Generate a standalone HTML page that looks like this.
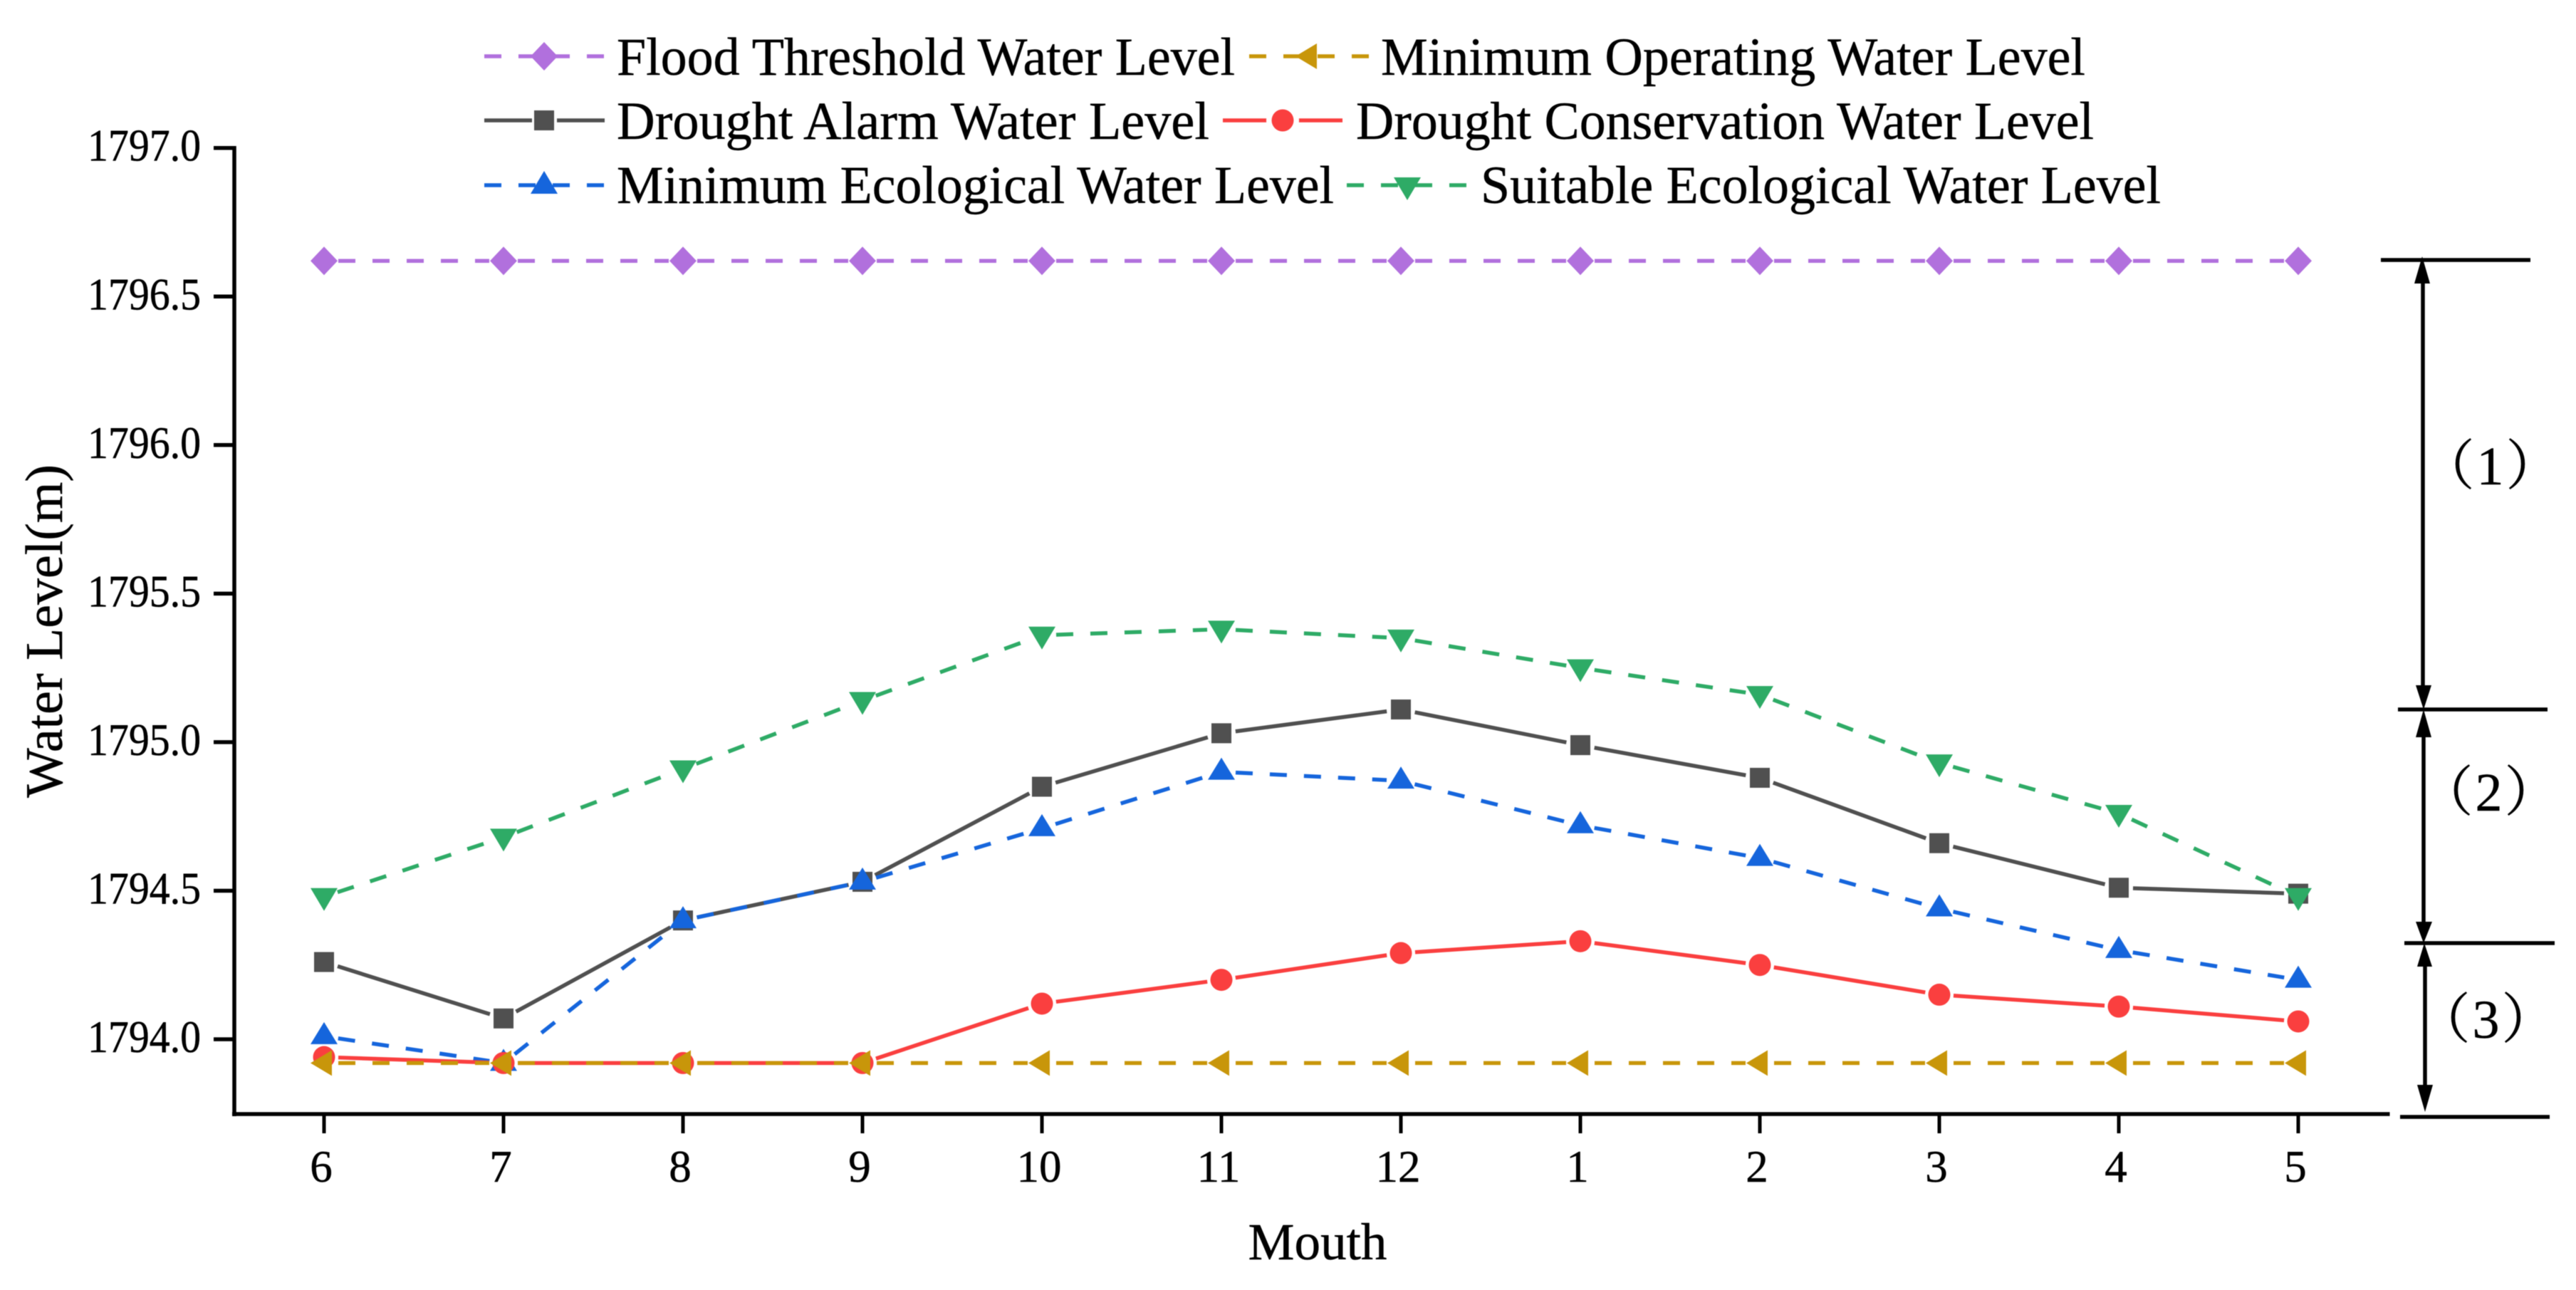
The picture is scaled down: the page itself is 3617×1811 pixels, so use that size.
<!DOCTYPE html>
<html lang="en">
<head>
<meta charset="utf-8">
<title>Water Level Chart</title>
<style>
html,body{margin:0;padding:0;background:#fff;}
svg{display:block;filter:blur(0.6px);}
text{font-family:"Liberation Serif","Noto Serif CJK SC",serif;fill:#000;stroke:#000;stroke-width:0.5;}
</style>
</head>
<body>
<svg id="chart" xmlns="http://www.w3.org/2000/svg" width="3617" height="1811" viewBox="0 0 3617 1811">
<rect x="0" y="0" width="3617" height="1811" fill="#fff"/>
<g id="series-layer"></g>
<g id="axes-layer"></g>
<text transform="translate(87 886) rotate(-90)" text-anchor="middle" font-size="74" textLength="468" lengthAdjust="spacingAndGlyphs">Water Level(m)</text>
<text x="1850" y="1768" text-anchor="middle" font-size="73" textLength="195" lengthAdjust="spacingAndGlyphs">Mouth</text>

<g>
  <g>
    <line x1="680" y1="79" x2="849" y2="79" stroke="#B170DD" stroke-width="5.5" stroke-dasharray="24 24"/>
    <polygon points="764,59 783,79 764,99 745,79" fill="#B170DD"/>
    <text x="866" y="105" font-size="75" textLength="868" lengthAdjust="spacingAndGlyphs">Flood Threshold Water Level</text>
  </g>
  <g>
    <line x1="1754" y1="79" x2="1922" y2="79" stroke="#C8960A" stroke-width="5.5" stroke-dasharray="24 24"/>
    <polygon points="1819,79 1849,61 1849,97" fill="#C8960A"/>
    <text x="1939" y="105" font-size="75" textLength="989" lengthAdjust="spacingAndGlyphs">Minimum Operating Water Level</text>
  </g>
  <g>
    <line x1="680" y1="169" x2="747" y2="169" stroke="#505050" stroke-width="5.5"/>
    <line x1="782" y1="169" x2="849" y2="169" stroke="#505050" stroke-width="5.5"/>
    <rect x="750" y="155" width="28" height="28" fill="#505050"/>
    <text x="866" y="195" font-size="75" textLength="832" lengthAdjust="spacingAndGlyphs">Drought Alarm Water Level</text>
  </g>
  <g>
    <line x1="1717" y1="169" x2="1885" y2="169" stroke="#FA3F3F" stroke-width="5.5"/>
    <circle cx="1801" cy="169" r="23" fill="#fff"/>
    <circle cx="1801" cy="169" r="15.5" fill="#FA3F3F"/>
    <text x="1904" y="195" font-size="75" textLength="1036" lengthAdjust="spacingAndGlyphs">Drought Conservation Water Level</text>
  </g>
  <g>
    <line x1="680" y1="260" x2="849" y2="260" stroke="#1565DC" stroke-width="5.5" stroke-dasharray="24 24"/>
    <polygon points="764,240 783,272 745,272" fill="#1565DC"/>
    <text x="866" y="285" font-size="75" textLength="1007" lengthAdjust="spacingAndGlyphs">Minimum Ecological Water Level</text>
  </g>
  <g>
    <line x1="1891" y1="260" x2="2060" y2="260" stroke="#2EAB66" stroke-width="5.5" stroke-dasharray="24 24"/>
    <polygon points="1957,249 1995,249 1976,281" fill="#2EAB66"/>
    <text x="2079" y="285" font-size="75" textLength="955" lengthAdjust="spacingAndGlyphs">Suitable Ecological Water Level</text>
  </g>
</g>

<g stroke="#000" stroke-width="5.5">
  <line x1="3343" y1="365" x2="3553" y2="365"/>
  <line x1="3367" y1="996" x2="3577" y2="996"/>
  <line x1="3376" y1="1324" x2="3587" y2="1324"/>
  <line x1="3370" y1="1568" x2="3580" y2="1568"/>
  <line x1="3402" y1="385" x2="3402" y2="975"/>
  <line x1="3403" y1="1020" x2="3403" y2="1300"/>
  <line x1="3405" y1="1345" x2="3405" y2="1535"/>
  <g stroke="none" fill="#000">
    <polygon points="3401,360 3412,398 3390,398"/>
    <polygon points="3392,962 3414,962 3403,996"/>
    <polygon points="3403,996 3414,1035 3392,1035"/>
    <polygon points="3392,1294 3415,1294 3403,1324"/>
    <polygon points="3404,1324 3415,1357 3394,1357"/>
    <polygon points="3394,1523 3416,1523 3405,1561"/>
  </g>
</g>
<text x="3498" y="680" text-anchor="middle" font-size="76" letter-spacing="3">（1）</text>
<text x="3496" y="1138" text-anchor="middle" font-size="76" letter-spacing="3">（2）</text>
<text x="3492" y="1457" text-anchor="middle" font-size="76" letter-spacing="3">（3）</text>
</svg>
<script>
const months = [6, 7, 8, 9, 10, 11, 12, 1, 2, 3, 4, 5];
const yTickValues = [1794.0, 1794.5, 1795.0, 1795.5, 1796.0, 1796.5, 1797.0];
const floodThreshold = [1796.62, 1796.62, 1796.62, 1796.62, 1796.62, 1796.62, 1796.62, 1796.62, 1796.62, 1796.62, 1796.62, 1796.62];
const droughtAlarm = [1794.26, 1794.07, 1794.40, 1794.53, 1794.85, 1795.03, 1795.11, 1794.99, 1794.88, 1794.66, 1794.51, 1794.49];
const minimumEcological = [1794.01, 1793.92, 1794.40, 1794.53, 1794.71, 1794.90, 1794.87, 1794.72, 1794.61, 1794.44, 1794.30, 1794.20];
const droughtConservation = [1793.94, 1793.92, 1793.92, 1793.92, 1794.12, 1794.20, 1794.29, 1794.33, 1794.25, 1794.15, 1794.11, 1794.06];
const minimumOperating = [1793.92, 1793.92, 1793.92, 1793.92, 1793.92, 1793.92, 1793.92, 1793.92, 1793.92, 1793.92, 1793.92, 1793.92];
const suitableEcological = [1794.48, 1794.68, 1794.91, 1795.14, 1795.36, 1795.38, 1795.35, 1795.25, 1795.16, 1794.93, 1794.76, 1794.48];

const NS = 'http://www.w3.org/2000/svg';
const xScale = i => 455 + 252 * i;
const yScale = v => 1459 - (v - 1794) * 417.1;
const GAP = 20;

function make(tag, parent, attrs) {
  const el = document.createElementNS(NS, tag);
  for (const k in attrs) el.setAttribute(k, attrs[k]);
  parent.appendChild(el);
  return el;
}

const markerPoints = {
  diamond: (x, y) => [[x, y - 20], [x + 19, y], [x, y + 20], [x - 19, y]],
  up: (x, y) => [[x, y - 20], [x + 19, y + 11], [x - 19, y + 11]],
  down: (x, y) => [[x - 19, y - 12], [x + 19, y - 12], [x, y + 20]],
  left: (x, y) => [[x - 19, y], [x + 11, y - 18], [x + 11, y + 18]]
};

function drawSeries(key, values, color, dashed, shape) {
  const layer = document.getElementById('series-layer');
  const group = make('g', layer, {});
  
  
  values.forEach((v, i) => {
    if (i === values.length - 1) return;
    const x1 = xScale(i), y1 = yScale(v), x2 = xScale(i + 1), y2 = yScale(values[i + 1]);
    const len = Math.hypot(x2 - x1, y2 - y1);
    if (len <= GAP * 2) return;
    const ux = (x2 - x1) / len, uy = (y2 - y1) / len;
    const seg = make('line', group, {
      x1: x1 + ux * GAP, y1: y1 + uy * GAP, x2: x2 - ux * GAP, y2: y2 - uy * GAP,
      stroke: color, 'stroke-width': 5.5
    });
    if (dashed) seg.setAttribute('stroke-dasharray', '24 24');
    
    
  });
  values.forEach((v, i) => {
    const x = xScale(i), y = yScale(v);
    let m;
    if (shape === 'square') {
      m = make('rect', group, { x: x - 14, y: y - 14, width: 28, height: 28, fill: color });
    } else if (shape === 'circle') {
      m = make('circle', group, { cx: x, cy: y, r: 15.5, fill: color });
    } else {
      m = make('polygon', group, { points: markerPoints[shape](x, y).join(' '), fill: color });
    }
    
    
  });
}

drawSeries('flood-threshold', floodThreshold, '#B170DD', true, 'diamond');
drawSeries('drought-alarm', droughtAlarm, '#505050', false, 'square');
drawSeries('minimum-ecological', minimumEcological, '#1565DC', true, 'up');
drawSeries('drought-conservation', droughtConservation, '#FA3F3F', false, 'circle');
drawSeries('minimum-operating', minimumOperating, '#C8960A', true, 'left');
drawSeries('suitable-ecological', suitableEcological, '#2EAB66', true, 'down');

const axes = document.getElementById('axes-layer');
const yAxis = make('line', axes, { x1: 329, y1: 205, x2: 329, y2: 1567, stroke: '#000', 'stroke-width': 5.5 });


const xAxis = make('line', axes, { x1: 326, y1: 1564, x2: 3355.5, y2: 1564, stroke: '#000', 'stroke-width': 5.5 });



yTickValues.forEach(v => {
  const y = yScale(v);
  const tick = make('line', axes, { x1: 300, y1: y, x2: 329, y2: y, stroke: '#000', 'stroke-width': 5.5 });
  
  
  const label = make('text', axes, { x: 123, y: y + 18, 'font-size': 64, textLength: 159, lengthAdjust: 'spacingAndGlyphs' });
  label.textContent = v.toFixed(1);
  
  
});

months.forEach((m, i) => {
  const x = xScale(i);
  const tick = make('line', axes, { x1: x, y1: 1564, x2: x, y2: 1591, stroke: '#000', 'stroke-width': 5 });
  
  
  const label = make('text', axes, { x: x - 4, y: 1659, 'font-size': 63, 'text-anchor': 'middle' });
  label.textContent = String(m);
  
  
});
</script>
</body>
</html>
